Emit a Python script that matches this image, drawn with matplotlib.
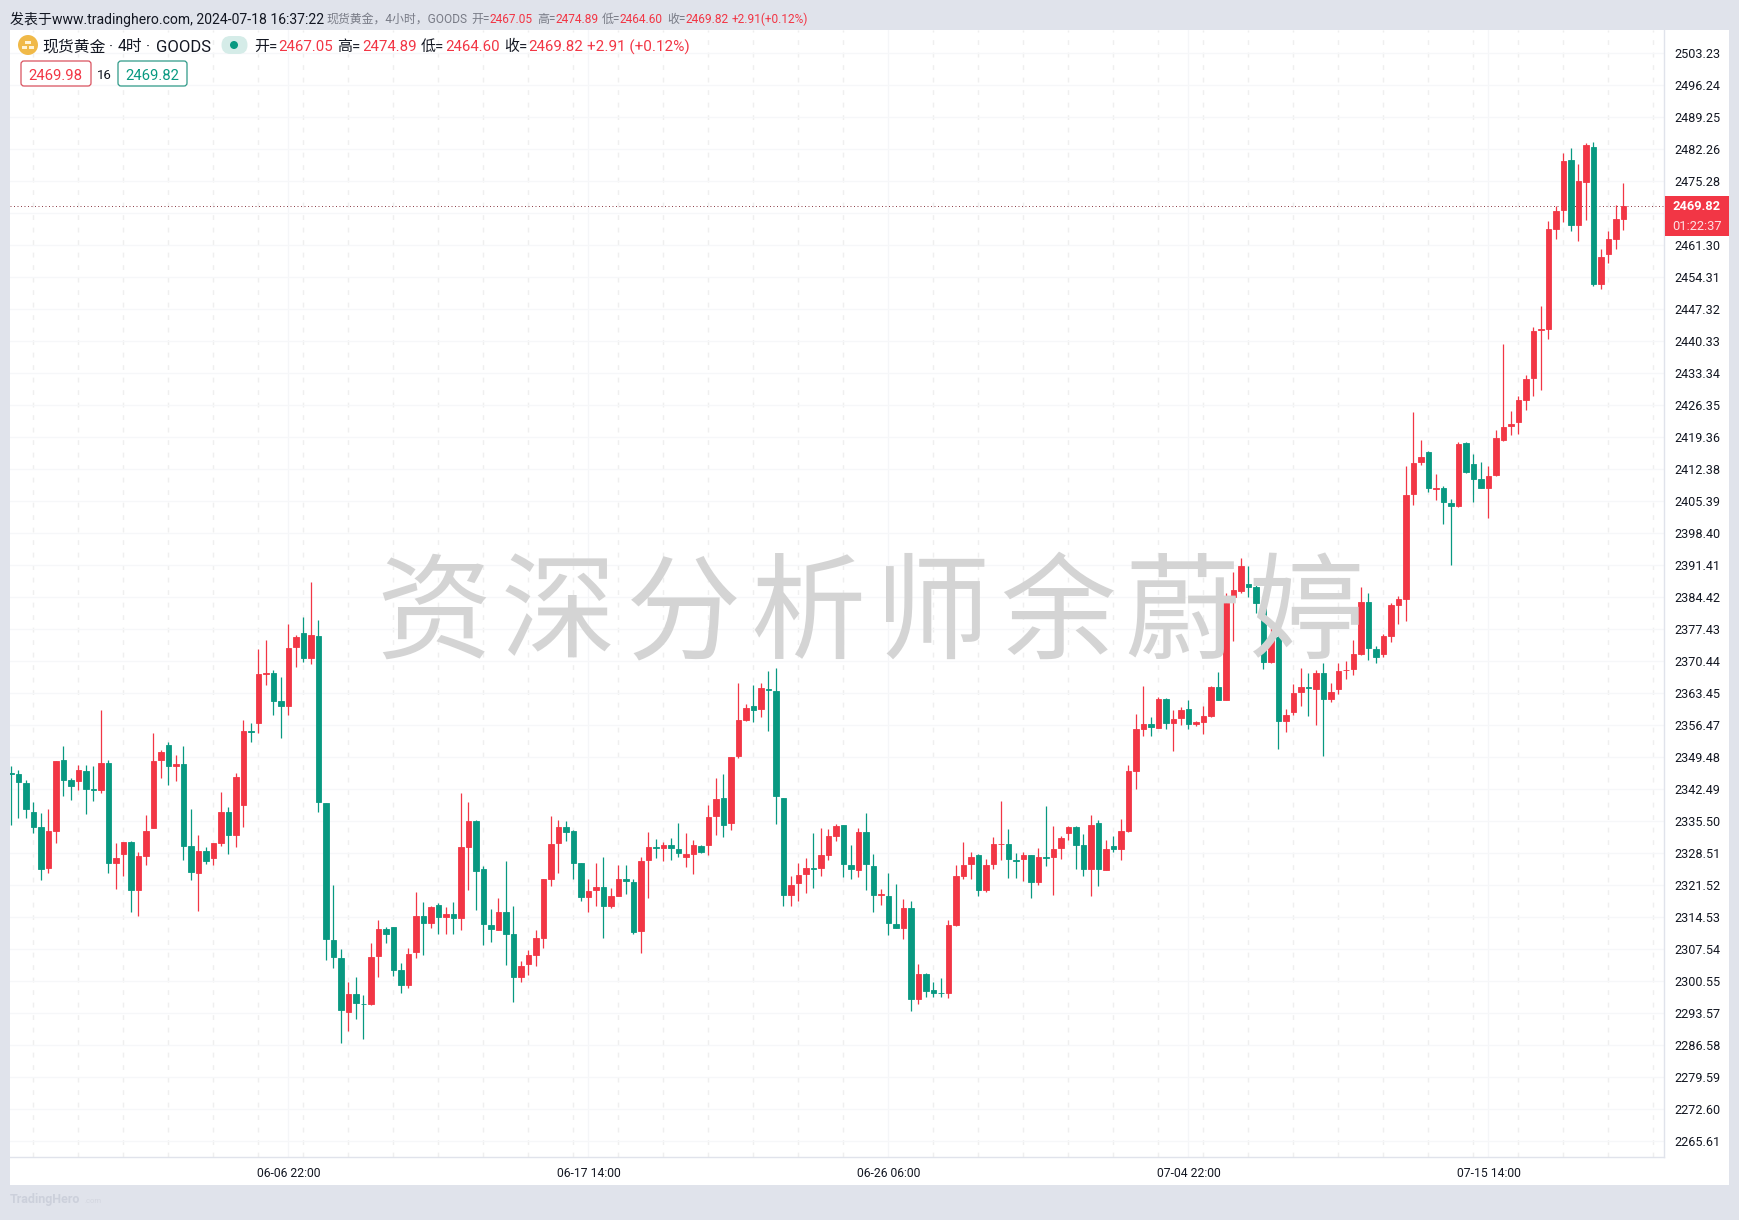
import matplotlib
matplotlib.use("Agg")
import matplotlib.pyplot as plt
from matplotlib.patches import Rectangle, FancyBboxPatch, Circle
from matplotlib.transforms import IdentityTransform

plt.rcParams['font.family'] = ['Roboto', 'Noto Sans CJK SC', 'DejaVu Sans']

W, H = 1739, 1220
BG = '#e0e3eb'; UP = '#f23645'; DOWN = '#089981'; INK = '#131722'; GREY = '#787b86'

opens = [
2345.9,2345.8,2343.7,2337.4,2334.1,2325.3,2333.4,2348.7,2344.4,2344.3,
2346.5,2342.4,2342.3,2348.1,2326.2,2328.3,2330.9,2320.3,2327.9,2334.0,
2348.7,2352.1,2347.4,2347.9,2330.0,2324.2,2328.9,2327.5,2330.7,2337.4,
2332.5,2338.9,2355.1,2356.8,2367.6,2367.8,2361.7,2360.7,2373.4,2376.5,
2371.2,2375.8,2339.4,2309.5,2305.6,2293.8,2297.6,2295.6,2295.5,2305.9,
2311.9,2312.3,2303.0,2299.7,2306.8,2314.7,2313.1,2317.1,2314.6,2315.2,
2314.2,2329.9,2335.5,2325.1,2312.7,2311.7,2315.6,2310.8,2301.5,2304.2,
2306.1,2310.0,2322.7,2330.6,2334.2,2333.3,2326.3,2318.8,2320.3,2321.0,
2316.8,2319.2,2322.7,2322.2,2311.4,2326.9,2329.9,2329.5,2330.2,2329.3,
2327.7,2328.2,2330.1,2330.3,2336.5,2340.5,2335.0,2349.6,2357.6,2360.6,
2359.9,2364.4,2363.9,2340.5,2319.4,2321.9,2323.8,2325.3,2325.3,2328.0,
2332.3,2334.6,2325.9,2324.7,2333.1,2325.6,2319.4,2319.1,2313.0,2312.2,
2316.5,2296.5,2302.1,2298.6,2297.9,2297.8,2312.7,2323.5,2326.0,2328.1,
2320.5,2326.0,2330.4,2330.4,2326.9,2327.2,2328.0,2322.1,2327.6,2327.7,
2329.5,2332.8,2334.2,2330.2,2325.1,2335.1,2324.8,2330.1,2329.3,2333.4,
2346.5,2355.5,2356.6,2355.9,2362.2,2357.0,2357.9,2359.9,2356.6,2357.1,
2358.5,2364.8,2362.0,2384.4,2385.8,2387.2,2386.6,2382.1,2370.3,2375.6,
2357.4,2359.3,2363.6,2364.8,2364.4,2367.8,2362.1,2364.4,2368.4,2368.7,
2372.0,2383.3,2373.1,2372.0,2376.0,2382.7,2384.0,2406.9,2413.9,2416.0,
2408.1,2408.3,2404.9,2404.2,2418.0,2413.5,2410.2,2408.3,2411.0,2418.8,
2421.7,2422.6,2427.5,2432.2,2442.7,2443.0,2464.9,2468.9,2479.9,2465.8,
2475.1,2482.8,2452.7,2459.3,2462.7,2467.05]
closes = [
2345.7,2343.9,2338.2,2334.2,2325.1,2333.3,2348.6,2344.5,2343.2,2346.6,
2342.5,2342.3,2348.1,2326.2,2327.3,2330.9,2320.3,2327.8,2333.4,2348.6,
2350.6,2347.4,2347.9,2330.1,2324.4,2328.9,2326.8,2330.6,2337.4,2332.5,
2345.0,2355.1,2355.0,2367.5,2367.8,2361.8,2360.7,2373.2,2375.6,2371.2,
2376.1,2339.6,2309.6,2305.7,2294.1,2297.6,2295.8,2295.4,2305.8,2311.9,
2310.9,2303.0,2299.7,2306.4,2314.8,2313.1,2316.7,2314.6,2315.2,2314.2,
2329.9,2335.5,2324.5,2312.9,2311.8,2315.6,2310.9,2301.5,2303.9,2306.1,
2309.9,2322.7,2330.4,2334.2,2333.0,2326.4,2318.8,2320.2,2321.1,2316.8,
2319.1,2322.7,2322.3,2311.3,2326.8,2329.8,2329.5,2330.3,2329.5,2328.4,
2328.3,2330.2,2328.6,2336.3,2340.3,2334.7,2349.4,2357.5,2360.1,2359.8,
2364.5,2364.0,2340.9,2319.4,2321.5,2323.7,2325.2,2325.1,2328.0,2332.2,
2334.4,2326.0,2325.1,2333.1,2326.0,2319.4,2319.5,2313.1,2312.2,2316.5,
2296.5,2302.1,2298.3,2298.0,2297.8,2312.8,2323.5,2325.8,2327.6,2320.5,
2325.8,2330.4,2330.5,2327.1,2326.7,2328.1,2322.1,2327.6,2327.3,2329.3,
2331.8,2334.2,2330.2,2325.1,2334.6,2324.9,2329.3,2329.3,2333.3,2346.4,
2355.6,2356.6,2356.1,2362.2,2357.0,2357.7,2359.7,2356.6,2357.1,2358.4,
2364.7,2362.0,2383.2,2386.0,2391.2,2386.7,2383.2,2370.3,2375.6,2357.4,
2358.6,2363.4,2364.7,2364.5,2367.8,2362.1,2363.6,2368.2,2368.5,2371.9,
2383.3,2373.2,2371.4,2375.9,2382.7,2384.0,2406.7,2413.7,2415.0,2408.2,
2408.3,2405.2,2404.2,2417.9,2411.8,2410.3,2408.3,2410.9,2419.2,2421.5,
2422.3,2427.5,2432.1,2442.6,2443.0,2464.8,2468.8,2479.6,2465.7,2475.3,
2483.2,2452.8,2458.7,2462.6,2467.0,2469.82]
highs = [
2347.4,2346.6,2344.4,2339.7,2337.2,2338.1,2348.6,2351.9,2344.8,2347.7,
2347.7,2347.4,2359.7,2348.9,2330.7,2331.0,2331.1,2328.8,2336.8,2354.8,
2350.9,2352.8,2349.8,2351.9,2338.1,2332.4,2329.9,2330.7,2341.8,2338.5,
2345.9,2357.6,2356.8,2373.0,2375.0,2368.5,2366.9,2378.5,2376.1,2380.1,
2387.7,2379.4,2339.4,2321.4,2307.5,2300.2,2301.3,2297.5,2308.9,2313.9,
2312.4,2312.4,2304.5,2307.8,2319.9,2317.8,2317.0,2317.6,2316.7,2317.8,
2341.6,2339.7,2335.6,2325.6,2316.3,2318.7,2326.8,2317.0,2304.8,2307.4,
2311.6,2322.8,2336.6,2335.7,2335.5,2333.6,2326.4,2322.7,2326.4,2327.7,
2320.8,2325.8,2325.8,2322.9,2327.7,2333.1,2331.6,2330.9,2331.8,2335.1,
2332.8,2331.3,2330.2,2339.0,2344.9,2345.8,2349.5,2365.6,2361.0,2365.1,
2365.6,2368.3,2368.9,2340.6,2323.5,2326.3,2327.4,2332.8,2334.0,2333.8,
2334.8,2334.7,2330.3,2333.9,2337.2,2328.3,2320.6,2324.1,2321.8,2318.4,
2318.0,2304.2,2302.2,2300.4,2301.2,2313.8,2325.9,2331.0,2328.7,2328.3,
2327.2,2332.0,2339.8,2333.8,2328.5,2328.6,2328.1,2329.6,2338.7,2334.4,
2332.3,2334.4,2334.4,2332.7,2336.8,2335.7,2331.3,2332.3,2336.0,2347.8,
2358.9,2365.0,2358.1,2362.5,2362.3,2359.8,2360.4,2362.0,2357.4,2360.5,
2365.0,2368.0,2385.3,2389.8,2392.9,2391.2,2387.2,2384.2,2377.6,2379.6,
2360.0,2365.4,2368.9,2367.8,2368.5,2370.1,2365.6,2370.0,2370.5,2375.1,
2386.7,2385.3,2373.7,2376.3,2383.1,2384.7,2413.1,2424.8,2418.8,2416.3,
2411.2,2408.6,2405.8,2418.2,2418.2,2415.6,2414.0,2413.0,2420.8,2439.8,
2425.1,2428.3,2433.0,2443.5,2448.1,2466.5,2469.9,2481.4,2482.5,2479.0,
2483.6,2483.9,2460.4,2464.3,2470.1,2474.89]
lows = [
2334.6,2336.1,2336.1,2332.9,2322.6,2324.2,2330.7,2340.9,2340.1,2342.3,
2337.1,2339.8,2341.7,2324.2,2320.6,2323.5,2315.5,2314.8,2325.9,2334.0,
2344.8,2343.3,2344.3,2327.0,2322.5,2315.9,2326.1,2325.8,2330.1,2328.3,
2329.7,2334.2,2352.8,2354.7,2365.2,2358.7,2353.7,2358.7,2369.2,2370.3,
2369.7,2337.5,2305.2,2303.3,2286.9,2289.7,2292.3,2287.9,2295.3,2301.5,
2308.8,2301.7,2297.8,2298.9,2305.5,2306.1,2312.2,2310.9,2310.9,2310.9,
2311.7,2320.3,2316.0,2308.3,2309.1,2311.6,2304.1,2295.9,2300.2,2301.8,
2303.7,2307.7,2321.2,2324.1,2331.2,2322.9,2317.9,2315.7,2317.0,2310.0,
2316.4,2319.1,2319.6,2310.9,2306.6,2318.7,2327.4,2326.7,2327.0,2327.7,
2325.4,2324.0,2328.4,2328.0,2332.5,2331.9,2333.6,2349.2,2357.4,2357.1,
2358.2,2355.2,2334.9,2317.0,2317.0,2317.9,2319.7,2320.9,2323.5,2327.0,
2331.2,2323.2,2322.9,2323.2,2320.5,2315.7,2317.1,2310.6,2312.0,2309.8,
2293.9,2295.6,2297.0,2297.0,2297.0,2296.7,2312.5,2322.9,2322.7,2319.2,
2319.9,2325.1,2327.0,2323.1,2323.1,2322.4,2318.7,2321.4,2325.6,2319.4,
2327.2,2331.4,2325.1,2323.5,2319.1,2321.2,2324.7,2328.6,2327.0,2333.1,
2342.5,2354.1,2354.0,2355.8,2355.6,2350.7,2356.5,2355.6,2356.3,2354.5,
2358.1,2361.9,2361.9,2374.7,2385.4,2384.5,2381.0,2368.7,2370.0,2351.3,
2355.0,2358.7,2360.7,2358.5,2356.4,2349.6,2361.4,2363.3,2366.6,2367.3,
2371.8,2370.7,2370.1,2371.3,2374.5,2378.6,2379.1,2404.6,2413.2,2407.3,
2405.7,2400.4,2391.5,2404.1,2411.5,2405.1,2408.2,2401.6,2410.9,2418.6,
2419.9,2420.0,2425.3,2428.4,2429.7,2440.8,2462.7,2466.4,2464.3,2462.1,
2466.8,2452.3,2451.7,2457.4,2460.5,2464.60]

price_ticks = [2503.23,2496.24,2489.25,2482.26,2475.28,2468.29,2461.30,2454.31,2447.32,2440.33,
               2433.34,2426.35,2419.36,2412.38,2405.39,2398.40,2391.41,2384.42,2377.43,2370.44,
               2363.45,2356.47,2349.48,2342.49,2335.50,2328.51,2321.52,2314.53,2307.54,2300.55,
               2293.57,2286.58,2279.59,2272.60,2265.61]
hidden_tick = 2468.29   # covered by the last-price tag in the reference
date_labels = ['06-06 22:00','06-17 14:00','06-26 06:00','07-04 22:00','07-15 14:00']
date_bars = [37, 77, 117, 157, 197]
minor_bars = list(range(3, 220, 6))

assert len(opens) == len(closes) == len(highs) == len(lows) == 216

fig = plt.figure(figsize=(W/100, H/100), dpi=100, facecolor=BG)
idt = IdentityTransform()

# white panel
fig.add_artist(Rectangle((10, H-1185), 1719, 1155, transform=idt, fc='white', ec='none', zorder=-5))

ax = fig.add_axes([10/W, 1-1157/H, 1654/W, 1127/H], facecolor='none', zorder=0)
ax.set_xlim(-0.133, 220.4)
ax.set_ylim(2262.07, 2508.3)

x = list(range(len(opens)))
colors = [UP if c >= o else DOWN for o, c in zip(opens, closes)]
ax.vlines(x, lows, highs, colors=colors, lw=0.9, zorder=3)
ax.bar(x, [abs(c-o) for o, c in zip(opens, closes)],
       bottom=[min(o, c) for o, c in zip(opens, closes)],
       width=0.72, color=colors, edgecolor=colors, linewidth=0.6, zorder=4)

for s in ('top', 'left'):
    ax.spines[s].set_visible(False)
for s in ('right', 'bottom'):
    ax.spines[s].set_color('#e0e3eb'); ax.spines[s].set_linewidth(1)

ax.yaxis.tick_right()
ax.set_yticks(price_ticks, ['' if v == hidden_tick else f'{v:.2f}' for v in price_ticks])
ax.tick_params(axis='y', length=0, pad=7.2, labelsize=9.1, labelcolor=INK)
ax.set_xticks(date_bars, date_labels)
ax.set_xticks(minor_bars, minor=True)
ax.tick_params(axis='x', which='major', length=0, pad=7, labelsize=8.7, labelcolor=INK)
ax.tick_params(axis='x', which='minor', length=0)
ax.grid(True, axis='y', color='#f6f7f9', lw=0.9, zorder=0)
ax.grid(True, axis='x', which='major', color='#f5f6f8', lw=0.9, zorder=0)
ax.grid(True, axis='x', which='minor', color='#efefef', lw=1.0, ls=(0, (3.5, 5.5)), zorder=0)
ax.set_axisbelow(True)

ax.axhline(closes[-1], color='#8a3a44', lw=0.7, ls=(0, (1, 2.6)), zorder=2)

# watermark above candles
wm = '资深分析师余蔚婷'
for i, ch in enumerate(wm):
    fig.text((434 + 124.7*i)/W, 1-617/H, ch, fontsize=83, color='#d4d4d4',
             ha='center', va='center', family=['Noto Sans CJK SC'], fontweight='medium', zorder=3)

# last price tag
fig.add_artist(Rectangle((1665, H-236), 64, 40, transform=idt, fc=UP, ec='none', zorder=5))
fig.text(1697/W, 1-206/H, f'{closes[-1]:.2f}', color='white', fontsize=9.3, fontweight='bold',
         ha='center', va='center', zorder=6)
fig.text(1697/W, 1-226/H, '01:22:37', color='#fde0e3', fontsize=9.3, ha='center', va='center', zorder=6)

def t(xp, yp, s, color=INK, size=10, **kw):
    fig.text(xp/W, 1-yp/H, s, color=color, fontsize=size, va='center', ha='left', zorder=6, **kw)

# publish line
Y = 19.5
t(10, Y, '发表于www.tradinghero.com, 2024-07-18 16:37:22', INK, 10.06)
t(326, Y, '现货黄金，4小时，GOODS', GREY, 8.6)
for lx, lab, vx, val in [(471,'开=',490,opens[-1]),(537,'高=',556,highs[-1]),
                         (602,'低=',620,lows[-1]),(667,'收=',686,closes[-1])]:
    t(lx, Y, lab, GREY, 8.6)
    t(vx, Y, f'{val:.2f}', UP, 8.6)
t(732, Y, '+2.91(+0.12%)', UP, 8.6)

# legend row
Y2 = 47
icon = fig.add_axes([18/W, 1-55/H, 20/W, 20/H], facecolor='none', zorder=6)
icon.set_xlim(-1, 1); icon.set_ylim(-1, 1); icon.axis('off')
icon.add_patch(Circle((0, 0), 1, fc='#f0b948', ec='none'))
for cx, cy in [(0, 0.24), (-0.33, -0.22), (0.33, -0.22)]:
    icon.add_patch(Rectangle((cx-0.27, cy-0.17), 0.54, 0.34, fc='#fff3d6', ec='none'))
t(42, Y2, '现货黄金', INK, 11.4)
t(109, Y2, '·', INK, 11.4)
t(118, Y2, '4时', INK, 11.4)
t(146, Y2, '·', INK, 11.4)
t(156, Y2, 'GOODS', INK, 12)
fig.add_artist(FancyBboxPatch((221.5, H-54), 26, 18, boxstyle='round,pad=0,rounding_size=9',
                              transform=idt, fc='#d5ece8', ec='none', zorder=5))
fig.add_artist(Circle((234, H-45), 4, fc=DOWN, ec='none', zorder=6, transform=idt))
for lx, lab, vx, val in [(254,'开=',278,opens[-1]),(337,'高=',362,highs[-1]),
                         (421,'低=',445,lows[-1]),(504,'收=',528,closes[-1])]:
    t(lx, Y2, lab, INK, 10.8)
    t(vx, Y2, f'{val:.2f}', UP, 10.8)
t(587, Y2, '+2.91 (+0.12%)', UP, 11)

# bid/ask row
for x0, x1, col in [(21, 91, '#d9525f'), (118, 187, '#2f9a88')]:
    fig.add_artist(FancyBboxPatch((x0, H-86), x1-x0, 25, boxstyle='round,pad=0,rounding_size=3',
                                  transform=idt, fc='white', ec=col, lw=0.9, zorder=5))
fig.text(55.5/W, 1-76/H, '2469.98', color=UP, fontsize=10.7, ha='center', va='center', zorder=6)
fig.text(104/W, 1-75.5/H, '16', color=INK, fontsize=9.5, ha='center', va='center', zorder=6)
fig.text(152.5/W, 1-76/H, '2469.82', color=DOWN, fontsize=10.7, ha='center', va='center', zorder=6)

# footer
t(10, 1200, 'TradingHero', '#ccd0db', 9.0, fontweight='bold')
t(84, 1201, '.com', '#d3d6df', 5.5)

fig.savefig('out.png', dpi=100, facecolor=BG)
